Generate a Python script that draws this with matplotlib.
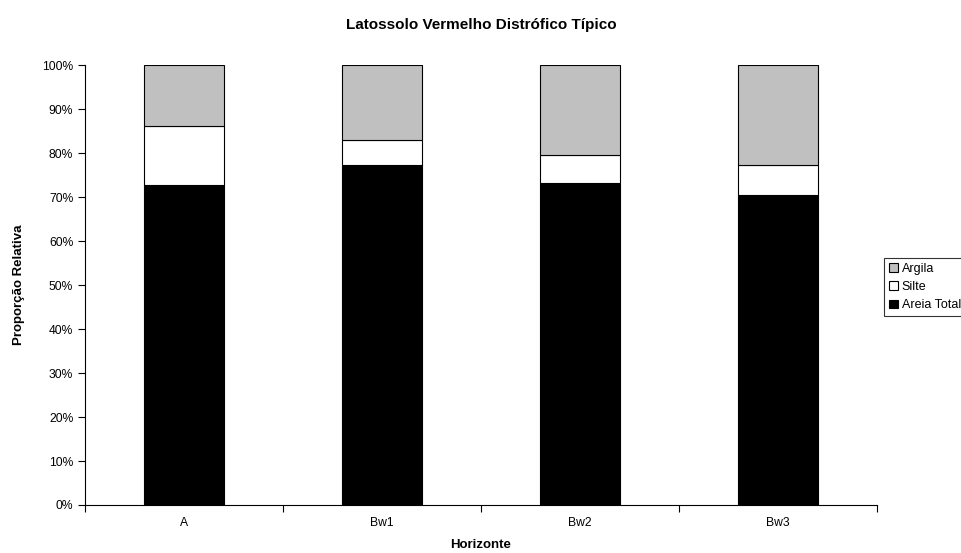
import matplotlib.pyplot as plt
import numpy as np

plt.rcParams['font.family'] = ['Liberation Sans', 'DejaVu Sans']

# Texture fractions (%) per horizon
horizontes = ['A', 'Bw1', 'Bw2', 'Bw3']
areia = [72.7, 77.4, 73.2, 70.4]
silte = [13.4, 5.6, 6.3, 6.9]
argila = [100 - a - s for a, s in zip(areia, silte)]

fig = plt.figure(figsize=(9.62, 5.53), dpi=100)
ax = fig.add_axes([0.0884, 0.0868, 0.8232, 0.7952])

x = np.arange(len(horizontes)) + 0.5
w = 0.4
kw = dict(width=w, edgecolor='black', linewidth=0.8)
b1 = ax.bar(x, areia, color='black', label='Areia Total', **kw)
b2 = ax.bar(x, silte, bottom=areia, color='white', label='Silte', **kw)
b3 = ax.bar(x, argila, bottom=np.add(areia, silte), color='#c0c0c0',
            label='Argila', **kw)

ax.set_xlim(0, len(horizontes))
ax.set_ylim(0, 100)
ax.set_yticks(np.arange(0, 101, 10))
ax.set_yticklabels([f'{v}%' for v in range(0, 101, 10)], fontsize=8.7)
ax.set_xticks(np.arange(0, len(horizontes) + 1))
ax.set_xticklabels([])
ax.set_xticks(x, minor=True)
ax.set_xticklabels(horizontes, minor=True, fontsize=8.7)
ax.tick_params(axis='x', which='minor', length=0, pad=9)
ax.tick_params(axis='both', which='major', direction='out', length=5, width=0.8)
for s in ['top', 'right']:
    ax.spines[s].set_visible(False)

ax.set_xlabel('Horizonte', fontsize=9.5, fontweight='bold', labelpad=7)
ax.set_ylabel('Proporção Relativa', fontsize=9.5, fontweight='bold', labelpad=12)
fig.suptitle('Latossolo Vermelho Distrófico Típico', fontsize=11,
             fontweight='bold', y=0.968)

leg = fig.legend([b3, b2, b1], ['Argila', 'Silte', 'Areia Total'],
                 loc='center left', bbox_to_anchor=(0.919, 0.481),
                 fontsize=9, frameon=True, fancybox=False,
                 handlelength=0.7, handleheight=0.7, handletextpad=0.3,
                 borderpad=0.4, labelspacing=0.5, borderaxespad=0)
leg.get_frame().set_edgecolor('black')
leg.get_frame().set_linewidth(0.8)

fig.savefig('out.png', dpi=100)
